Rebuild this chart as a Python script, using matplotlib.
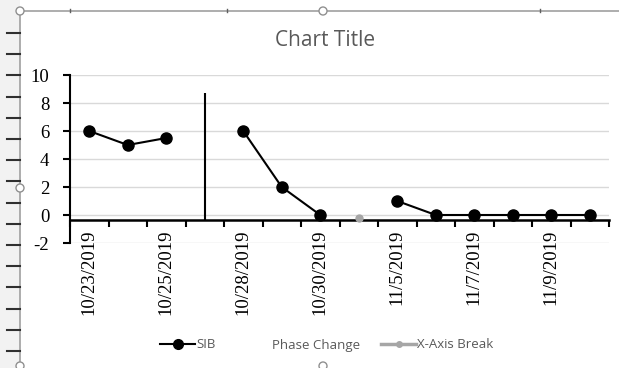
import numpy as np
import matplotlib
matplotlib.use('Agg')
from matplotlib import pyplot as plt
from matplotlib.lines import Line2D
from matplotlib.patches import Circle

# categories (every other label is shown, like Excel's label interval of 2)
dates = ['10/23/2019', '10/24/2019', '10/25/2019', '', '10/28/2019', '10/29/2019',
         '10/30/2019', '', '11/5/2019', '11/6/2019', '11/7/2019', '11/8/2019',
         '11/9/2019', '11/10/2019']
sib = [6, 5, 5.5, np.nan, 6, 2, 0, np.nan, 1, 0, 0, 0, 0, 0]
phase_change_idx = 3
phase_change_top = 8.7
break_idx = 7
break_val = -0.2
yticks = [-2, 0, 2, 4, 6, 8, 10]

gray_txt = '#595959'
serif = 'Liberation Serif'
sans = 'Open Sans'

# axis numbers/dates are in a Times-like face; title and legend set their own family
plt.rcParams['font.family'] = [serif, 'DejaVu Serif']

fig = plt.figure(figsize=(6.19, 3.68), dpi=100)
ax = fig.add_axes([70 / 619, 1 - 243 / 368, 539 / 619, 168 / 368])

x = np.arange(len(dates))
sib = np.array(sib, dtype=float)

# SIB segments (broken at the phase change and axis break)
ax.plot(x, sib, color='black', lw=1.5, marker='o', ms=8, zorder=4)
ax.plot([break_idx], [break_val], color='#a6a6a6', marker='o', ms=5, lw=0, zorder=4)
ax.vlines(phase_change_idx, -0.35, phase_change_top, color='black', lw=1.5, zorder=3)

ax.set_xlim(-0.5, len(dates) - 0.5)
ax.set_ylim(-2, 10)
ax.set_yticks(yticks)
ax.set_yticklabels([str(v) for v in yticks])
ax.grid(axis='y', color='#d9d9d9', lw=1)
ax.set_axisbelow(True)

ax.set_xticks(np.arange(-0.5, len(dates)), labels=[])
ax.set_xticks(x, minor=True)
ax.set_xticklabels([d if i % 2 == 0 else '' for i, d in enumerate(dates)], minor=True)
ax.tick_params(axis='x', which='major', direction='out', length=5, width=1.5, color='black')
ax.tick_params(axis='x', which='minor', length=0, pad=7, labelrotation=90, labelsize=13.5)
ax.tick_params(axis='y', direction='out', length=5, width=1.5, color='black', pad=10,
               labelsize=13.5)

for s in ['top', 'right']:
    ax.spines[s].set_visible(False)
ax.spines['bottom'].set_position(('data', -0.35))
ax.spines['bottom'].set_linewidth(1.8)
ax.spines['left'].set_linewidth(1.5)

fig.text(0.525, 1 - 40 / 368, 'Chart Title', ha='center', va='center',
         fontsize=15, color=gray_txt, family=sans)

handles = [Line2D([], [], color='black', lw=1.5, marker='o', ms=7),
           Line2D([], [], color='none'),
           Line2D([], [], color='#a6a6a6', lw=2.5, marker='o', ms=4)]
leg = fig.legend(handles, ['SIB', 'Phase Change', 'X-Axis Break'], loc='center',
                 bbox_to_anchor=(0.528, 1 - 345 / 368), ncol=3, frameon=False,
                 handlelength=2.6, handletextpad=0.1, columnspacing=1.6,
                 prop={'family': sans, 'size': 9.5})
for t in leg.get_texts():
    t.set_color(gray_txt)

# Excel selection frame / ruler seen in the screenshot
deco = fig.add_axes([0, 0, 1, 1], zorder=-1)
deco.set_xlim(0, 619)
deco.set_ylim(368, 0)
deco.axis('off')
deco.add_patch(plt.Rectangle((0, 0), 20, 368, color='#f2f2f2', lw=0))
deco.plot([20, 619], [11, 11], color='#a0a0a0', lw=1.2)
deco.plot([20, 20], [11, 368], color='#a0a0a0', lw=1.2)
for yy in np.arange(33, 360, 21.2):
    deco.plot([7, 20], [yy, yy], color='#303030', lw=1.5)
for xx in [70, 227, 540]:
    deco.plot([xx, xx], [9, 12], color='#606060', lw=1)
for cx, cy in [(20, 11), (323, 11), (20, 188), (20, 366), (323, 366)]:
    deco.add_patch(Circle((cx, cy), 4, facecolor='white', edgecolor='#909090', lw=1, zorder=5))

fig.savefig('out.png', dpi=100)
